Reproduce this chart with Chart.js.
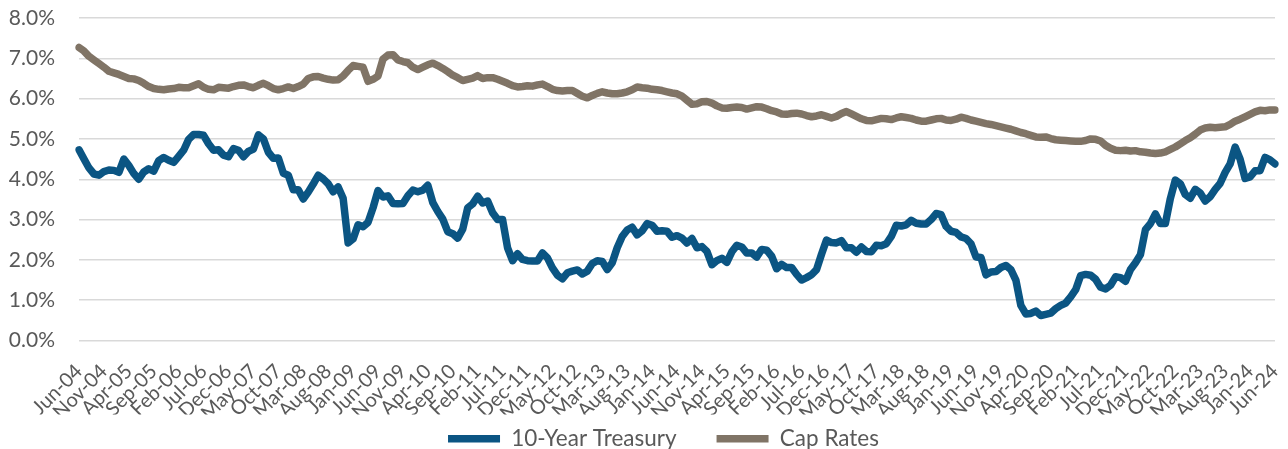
<!DOCTYPE html>
<html>
<head>
<meta charset="utf-8">
<script src="https://cdn.jsdelivr.net/npm/chart.js@4"></script>
<style>
    html, body { margin:0; padding:0; background:#fff; }
    #wrap { width:1288px; height:449px; }
</style>
</head>
<body>
<div id="wrap"><canvas id="chart"></canvas></div>
<script>
///////////////////////////////////////////////////////////////////////////////
// data: monthly, Jun-04 .. Jun-24
///////////////////////////////////////////////////////////////////////////////
const monthNames = ["Jan","Feb","Mar","Apr","May","Jun","Jul","Aug","Sep","Oct","Nov","Dec"];
const firstYear = 2004, firstMonth = 5;    // Jun-04
const monthCount = 241;
const labelStep = 5;                       // a tick label every 5 months

const seriesNames = ["10-Year Treasury", "Cap Rates"];
const seriesColors = ["#0B5583", "#807466"];

const treasury = [
    4.73, 4.50, 4.28, 4.13, 4.10, 4.19, 4.23,                          // 2004
    4.22, 4.17, 4.50, 4.34, 4.14, 4.00, 4.18, 4.26, 4.20, 4.46, 4.54, 4.47, // 2005
    4.42, 4.57, 4.72, 4.99, 5.11, 5.11, 5.09, 4.88, 4.72, 4.73, 4.60, 4.56, // 2006
    4.76, 4.72, 4.56, 4.69, 4.75, 5.10, 5.00, 4.67, 4.52, 4.53, 4.15, 4.10, // 2007
    3.74, 3.74, 3.51, 3.68, 3.88, 4.10, 4.01, 3.89, 3.69, 3.81, 3.53, 2.42, // 2008
    2.52, 2.87, 2.82, 2.93, 3.29, 3.72, 3.56, 3.59, 3.40, 3.39, 3.40, 3.59, // 2009
    3.73, 3.69, 3.73, 3.85, 3.42, 3.20, 3.01, 2.70, 2.65, 2.54, 2.76, 3.29, // 2010
    3.39, 3.58, 3.41, 3.46, 3.17, 3.00, 3.00, 2.30, 1.98, 2.15, 2.01, 1.98, // 2011
    1.97, 1.97, 2.17, 2.05, 1.80, 1.62, 1.53, 1.68, 1.72, 1.75, 1.65, 1.72, // 2012
    1.91, 1.98, 1.96, 1.76, 1.93, 2.30, 2.58, 2.74, 2.81, 2.62, 2.72, 2.90, // 2013
    2.86, 2.71, 2.72, 2.71, 2.56, 2.60, 2.54, 2.42, 2.53, 2.30, 2.33, 2.21, // 2014
    1.88, 1.98, 2.04, 1.94, 2.20, 2.36, 2.32, 2.17, 2.17, 2.07, 2.26, 2.24, // 2015
    2.09, 1.78, 1.89, 1.81, 1.81, 1.64, 1.50, 1.56, 1.63, 1.76, 2.14, 2.49, // 2016
    2.43, 2.42, 2.48, 2.30, 2.30, 2.19, 2.32, 2.21, 2.20, 2.36, 2.35, 2.40, // 2017
    2.58, 2.86, 2.84, 2.87, 2.98, 2.91, 2.89, 2.89, 3.00, 3.15, 3.12, 2.83, // 2018
    2.71, 2.68, 2.57, 2.53, 2.40, 2.07, 2.06, 1.63, 1.70, 1.71, 1.81, 1.86, // 2019
    1.76, 1.50, 0.87, 0.66, 0.67, 0.73, 0.62, 0.65, 0.68, 0.79, 0.87, 0.93, // 2020
    1.08, 1.26, 1.61, 1.64, 1.62, 1.52, 1.32, 1.28, 1.37, 1.58, 1.56, 1.47, // 2021
    1.76, 1.93, 2.13, 2.75, 2.90, 3.14, 2.90, 2.90, 3.52, 3.98, 3.89, 3.62, // 2022
    3.53, 3.75, 3.66, 3.46, 3.57, 3.75, 3.90, 4.17, 4.38, 4.80, 4.50, 4.02, // 2023
    4.06, 4.21, 4.21, 4.54, 4.48, 4.38                                  // 2024
];

const capRates = [
    7.27, 7.18, 7.05, 6.96, 6.87, 6.78, 6.68,                          // 2004
    6.64, 6.60, 6.55, 6.50, 6.49, 6.45, 6.38, 6.30, 6.25, 6.23, 6.22, 6.24, // 2005
    6.25, 6.28, 6.27, 6.27, 6.32, 6.37, 6.28, 6.23, 6.22, 6.28, 6.27, 6.26, // 2006
    6.30, 6.33, 6.34, 6.30, 6.27, 6.33, 6.38, 6.32, 6.25, 6.22, 6.25, 6.29, // 2007
    6.25, 6.30, 6.36, 6.50, 6.54, 6.55, 6.51, 6.48, 6.46, 6.47, 6.56, 6.70, // 2008
    6.82, 6.80, 6.78, 6.43, 6.48, 6.56, 6.98, 7.08, 7.09, 6.96, 6.92, 6.89, // 2009
    6.78, 6.72, 6.78, 6.84, 6.88, 6.82, 6.75, 6.67, 6.58, 6.52, 6.45, 6.48, // 2010
    6.51, 6.57, 6.50, 6.52, 6.52, 6.48, 6.43, 6.38, 6.32, 6.29, 6.30, 6.32, // 2011
    6.31, 6.34, 6.36, 6.30, 6.23, 6.20, 6.19, 6.20, 6.20, 6.13, 6.06, 6.02, // 2012
    6.08, 6.13, 6.17, 6.14, 6.12, 6.12, 6.14, 6.17, 6.22, 6.29, 6.27, 6.26, // 2013
    6.23, 6.22, 6.20, 6.17, 6.14, 6.12, 6.06, 5.96, 5.86, 5.87, 5.92, 5.93, // 2014
    5.89, 5.82, 5.77, 5.76, 5.78, 5.79, 5.78, 5.74, 5.77, 5.80, 5.79, 5.75, // 2015
    5.70, 5.67, 5.62, 5.61, 5.63, 5.64, 5.62, 5.58, 5.55, 5.57, 5.60, 5.56, // 2016
    5.52, 5.56, 5.63, 5.68, 5.62, 5.56, 5.50, 5.46, 5.45, 5.48, 5.51, 5.50, // 2017
    5.48, 5.52, 5.55, 5.53, 5.51, 5.47, 5.44, 5.44, 5.47, 5.50, 5.51, 5.47, // 2018
    5.46, 5.49, 5.54, 5.51, 5.47, 5.44, 5.41, 5.38, 5.36, 5.33, 5.30, 5.27, // 2019
    5.24, 5.20, 5.16, 5.13, 5.09, 5.05, 5.04, 5.05, 5.01, 4.98, 4.97, 4.96, // 2020
    4.95, 4.94, 4.94, 4.96, 5.00, 4.99, 4.95, 4.84, 4.77, 4.72, 4.71, 4.72, // 2021
    4.70, 4.71, 4.68, 4.67, 4.65, 4.64, 4.65, 4.68, 4.74, 4.80, 4.88, 4.96, // 2022
    5.03, 5.12, 5.22, 5.27, 5.29, 5.28, 5.29, 5.30, 5.36, 5.44, 5.49, 5.55, // 2023
    5.61, 5.67, 5.71, 5.70, 5.72, 5.72                                  // 2024
];

const yMin = 0, yMax = 8, yStep = 1;

// category labels "Jun-04" ...
const categories = [];
for(let i = 0; i < monthCount; ++i)
{
    let m = (firstMonth + i) % 12;
    let y = firstYear + Math.floor((firstMonth + i) / 12);
    categories.push(monthNames[m] + "-" + String(y % 100).padStart(2, "0"));
}


///////////////////////////////////////////////////////////////////////////////
// the legend overlaps the rotated x labels' box a bit (like the original),
// so grow it upward and nudge it right after layout
const legendNudge =
{
    id: "legendNudge",
    afterLayout(chart)
    {
        let lg = chart.legend;
        lg.top -= 27;
        lg.left += 26; lg.right += 26;
    }
};


///////////////////////////////////////////////////////////////////////////////
document.addEventListener("DOMContentLoaded", e =>
{
    const font = "Lato, 'Liberation Sans', sans-serif";
    const gray = "#595959";

    let context = document.getElementById("chart").getContext("2d");
    new Chart(context,
    {
        type: "line",
        data:
        {
            labels: categories,
            datasets:
            [{
                label: seriesNames[0],
                data: treasury,
                borderColor: seriesColors[0],
                backgroundColor: seriesColors[0],
                borderWidth: 7.5,
                borderCapStyle: "round",
                borderJoinStyle: "round",
                pointRadius: 0,
                tension: 0
            },
            {
                label: seriesNames[1],
                data: capRates,
                borderColor: seriesColors[1],
                backgroundColor: seriesColors[1],
                borderWidth: 7.5,
                borderCapStyle: "round",
                borderJoinStyle: "round",
                pointRadius: 0,
                tension: 0
            }]
        },
        plugins: [legendNudge],
        options:
        {
            responsive: true,
            maintainAspectRatio: false,
            animation: false,
            layout: { padding: { top: 18, right: 13, left: 0, bottom: 0 } },
            scales:
            {
                x:
                {
                    grid: { display: false, drawTicks: false },
                    border: { display: false },
                    afterFit: s =>
                    {
                        s.height = 74;
                        s.paddingLeft = 0;
                        s.paddingRight = 0;
                    },
                    ticks:
                    {
                        autoSkip: false,
                        minRotation: 45,
                        maxRotation: 45,
                        padding: 19,
                        color: gray,
                        font: { family: font, size: 20 },
                        callback: (v, i) => (i % labelStep === 0) ? categories[i] : null
                    }
                },
                y:
                {
                    min: yMin,
                    max: yMax,
                    grid: { color: "#d9d9d9", lineWidth: 1.5, drawTicks: false },
                    border: { display: false },
                    afterFit: s =>
                    {
                        s.width = 79;
                        s.paddingTop = 12;      // tick padding would otherwise push the top down
                        s.paddingBottom = 12;
                    },
                    ticks:
                    {
                        stepSize: yStep,
                        padding: 24,
                        color: gray,
                        font: { family: font, size: 21 },
                        callback: v => v.toFixed(1) + "%"
                    }
                }
            },
            plugins:
            {
                tooltip: { enabled: false },
                legend:
                {
                    position: "bottom",
                    maxHeight: 34.5,
                    labels:
                    {
                        usePointStyle: true,
                        pointStyle: "line",
                        pointStyleWidth: 52,
                        padding: 40,
                        color: gray,
                        font: { family: font, size: 22.5 }
                    }
                }
            }
        }
    });
});
</script>
</body>
</html>
